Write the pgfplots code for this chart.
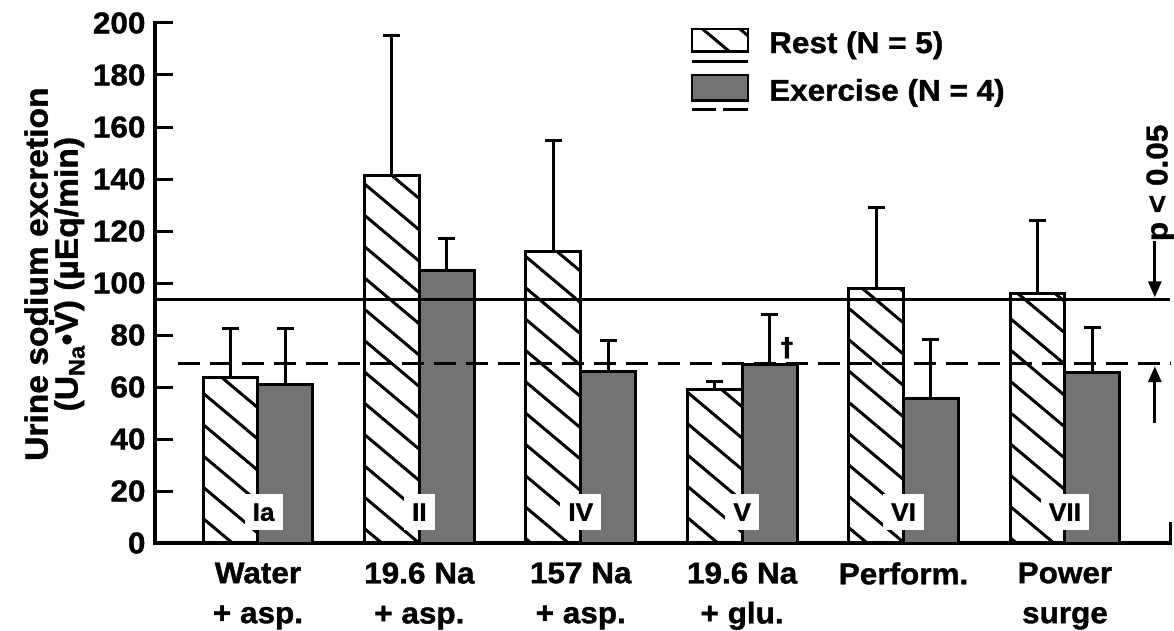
\documentclass[border=0pt]{standalone}
\usepackage{fontspec}
\setmainfont{Liberation Sans}[FakeStretch=1.05, FakeBold=1.2]
\newfontfamily\dv{DejaVu Sans}
\usepackage{pgfplots}
\pgfplotsset{compat=1.18}
\usepackage{pgfplotstable}
\usetikzlibrary{patterns.meta, arrows.meta}

\newcommand\lf{\fontsize{30}{30}\selectfont\bfseries}
\newcommand\yf{\fontsize{32}{30}\selectfont\bfseries}
\newcommand\xf{\fontsize{30}{40}\selectfont\bfseries}
\newcommand\rf{\fontsize{25}{26}\selectfont\bfseries}
\newcommand\Vdot{\ooalign{V\cr\hidewidth\raisebox{0.74em}{.}\hidewidth\cr}}

\pgfplotstableread{
xr    rest  rerr  xe    ex    eerr
-0.17 63.6  18.9  0.17  61.0  21.5
0.83  141.5 53.5  1.17  105.0 12.0
1.83  112.0 43.0  2.17  66.0  12.0
2.83  59.0  3.0   3.17  68.5  19.5
3.83  98.0  31.0  4.17  55.5  22.9
4.83  95.8  28.2  5.17  65.6  17.4
}\data

\pgfplotstableread{
x      y
-0.638 93.5
5.651  93.5
}\solidline
\pgfplotstableread{
x      y
-0.496 69
5.651  69
}\dashline

\begin{document}
\begin{tikzpicture}
\path[use as bounding box] (0,0) rectangle (1174pt,630pt);
\begin{axis}[
  at={(155pt,87pt)}, anchor=south west,
  scale only axis, width=1015pt, height=520pt,
  xmin=-0.638, xmax=5.651, ymin=0, ymax=200,
  axis x line=bottom, axis y line=left,
  axis line style={-, line width=3.5pt, line cap=rect},
  ytick={0,20,...,200},
  ytick align=inside,
  major tick length=18pt,
  ytick style={line width=3pt, black},
  xtick={0,...,5},
  xtick style={draw=none},
  xticklabels={{Water\\+ asp.},{19.6 Na\\+ asp.},{157 Na\\+ asp.},{19.6 Na\\+ glu.},{Perform.},{Power\\surge}},
  xticklabel style={font=\xf, align=center, yshift=-7pt},
  yticklabel style={font=\lf, xshift=-6pt},
  /pgf/number format/assume math mode=true,
  ylabel={Urine sodium excretion\\(U\textsubscript{Na}•\Vdot) (µEq/min)},
  every axis y label/.style={at={(axis description cs:-0.099,0.517)}, rotate=90, anchor=center, align=center, font=\yf},
  clip=false,
  legend cell align=left,
  legend style={draw=none, fill=none, inner sep=0pt, outer sep=0pt,
    at={(axis cs:2.681,198.1)}, anchor=north west,
    font=\lf, row sep=17pt, column sep=18pt},
]
\addplot[ybar, bar width=0.34, bar shift=0pt, draw=black, line width=3pt,
  pattern={Lines[angle=-40, distance=24pt, line width=3pt]},
  legend image code/.code={
    \draw[line width=2.5pt, pattern={Lines[angle=-40, distance=24pt, line width=3pt]}] (0pt,-8.75pt) rectangle (56pt,13.75pt);
    \draw[overlay, line width=3pt] (0pt,-19pt) -- (56pt,-19pt);},
  error bars/.cd, y dir=plus, y explicit,
  error bar style={line width=3pt, black},
  error mark options={rotate=90, mark size=8.5pt, line width=3pt, black}]
  table[x=xr, y=rest, y error=rerr] {\data};
\addlegendentry{Rest (N = 5)}
\addplot[ybar, bar width=0.34, bar shift=0pt, draw=black, line width=3pt,
  fill=black!55,
  legend image code/.code={
    \draw[line width=2.5pt, fill=black!55] (0pt,-9.75pt) rectangle (56pt,15.75pt);
    \draw[overlay, line width=3pt] (0pt,-19pt) -- (24pt,-19pt);
    \draw[overlay, line width=3pt] (31pt,-19pt) -- (56pt,-19pt);},
  error bars/.cd, y dir=plus, y explicit,
  error bar style={line width=3pt, black},
  error mark options={rotate=90, mark size=8.5pt, line width=3pt, black}]
  table[x=xe, y=ex, y error=eerr] {\data};
\addlegendentry{Exercise (N = 4)}
\addplot[forget plot, black, line width=3pt] table[x=x,y=y] {\solidline};
\addplot[forget plot, black, line width=3.5pt, dash pattern=on 22pt off 10pt] table[x=x,y=y] {\dashline};
% roman labels
\tikzset{rlab/.style={fill=white, font=\rf, inner xsep=8pt, inner ysep=9pt, text height=18pt, text depth=0pt}}
\node[rlab] at (axis cs:0.035,12) {Ia};
\node[rlab] at (axis cs:1,12) {II};
\node[rlab] at (axis cs:2,12) {IV};
\node[rlab] at (axis cs:3,12) {V};
\node[rlab] at (axis cs:4,12) {VI};
\node[rlab] at (axis cs:5,12) {VII};
% dagger
\node[font={\dv\fontsize{26}{26}\selectfont\bfseries}] at (axis cs:3.278,75) {†};
% p annotation
\draw[line width=3pt, -{Triangle[length=16pt,width=13pt]}] (axis cs:5.557,116) -- (axis cs:5.557,94.5);
\draw[line width=3pt, -{Triangle[length=16pt,width=13pt]}] (axis cs:5.557,46) -- (axis cs:5.557,68);
\node[rotate=90, font=\lf] at (axis cs:5.589,138.5) {p < 0.05};
\draw[line width=3pt] (axis cs:5.651,0) -- (axis cs:5.651,8);
\end{axis}
\end{tikzpicture}
\end{document}
